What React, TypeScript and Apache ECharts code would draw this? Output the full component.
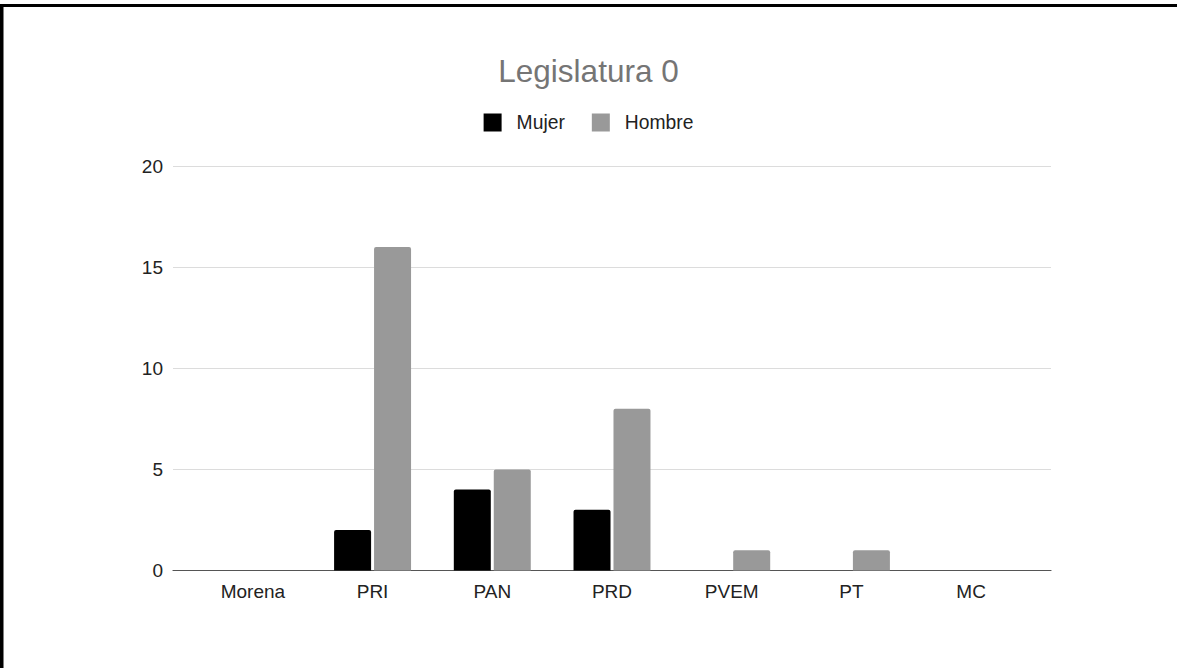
import React, { useEffect, useRef } from "react";
import * as echarts from "echarts";

const categories = ["Morena", "PRI", "PAN", "PRD", "PVEM", "PT", "MC"];
const mujer = [0, 2, 4, 3, 0, 0, 0];
const hombre = [0, 16, 5, 8, 1, 1, 0];
const yTicks = [0, 5, 10, 15, 20];
const titleText = "Legislatura 0";

const FONT = "'Liberation Sans', Arial, sans-serif";

export default function App() {
  const ref = useRef<HTMLDivElement>(null);
  useEffect(() => {
    if (!ref.current) return;
    const chart = echarts.init(ref.current, undefined, { renderer: "svg" });
    const yMax = yTicks[yTicks.length - 1];
    const interval = yTicks[1] - yTicks[0];
    chart.setOption({
      animation: false,
      backgroundColor: "#ffffff",
      title: {
        text: titleText,
        left: "center",
        top: 50,
        textStyle: { fontFamily: FONT, fontSize: 31.5, fontWeight: "normal", color: "#757575" },
      },
      legend: {
        top: 108,
        left: "center",
        itemWidth: 18,
        itemHeight: 18,
        itemGap: 27,
        icon: "rect",
        textStyle: { fontFamily: FONT, fontSize: 19.3, color: "#222222", padding: [0, 0, 0, 10] },
        data: ["Mujer", "Hombre"],
      },
      graphic: [
        { type: "rect", shape: { x: 0, y: 4, width: 3.5, height: 664 }, style: { fill: "#000" }, z: 100 },
        { type: "rect", shape: { x: 0, y: 4, width: 1177, height: 3 }, style: { fill: "#000" }, z: 100 },
      ],
      grid: [
        { left: 173, right: 126, top: 166, bottom: 97.5 },
        { left: 193, right: 146, top: 166, bottom: 97.5 },
      ],
      xAxis: [
        {
          type: "value",
          gridIndex: 0,
          min: 0,
          max: 1,
          axisLabel: { show: false },
          axisTick: { show: false },
          splitLine: { show: false },
          axisLine: { show: true, lineStyle: { color: "#555555", width: 1.2 } },
        },
        {
          type: "category",
          gridIndex: 1,
          data: categories,
          axisLine: { show: false },
          axisTick: { show: false },
          axisLabel: { fontFamily: FONT, fontSize: 19, color: "#222222", margin: 11 },
        },
      ],
      yAxis: [
        {
          type: "value",
          gridIndex: 0,
          min: 0,
          max: yMax,
          interval,
          axisLine: { show: false },
          axisTick: { show: false },
          axisLabel: { fontFamily: FONT, fontSize: 19, color: "#222222", margin: 10 },
          splitLine: { lineStyle: { color: "#dcdcdc", width: 1.2 } },
        },
        {
          type: "value",
          gridIndex: 1,
          min: 0,
          max: yMax,
          interval,
          show: false,
          splitLine: { show: false },
        },
      ],
      series: [
        {
          name: "Mujer",
          type: "bar",
          xAxisIndex: 1,
          yAxisIndex: 1,
          data: mujer,
          barWidth: 37,
          barGap: "8%",
          itemStyle: { color: "#000000", borderRadius: [2, 2, 0, 0] },
        },
        {
          name: "Hombre",
          type: "bar",
          xAxisIndex: 1,
          yAxisIndex: 1,
          data: hombre,
          barWidth: 37,
          barGap: "8%",
          itemStyle: { color: "#999999", borderRadius: [2, 2, 0, 0] },
        },
      ],
    });
    return () => chart.dispose();
  }, []);
  return (
    <div
      ref={ref}
      style={{ position: "fixed", left: 0, top: 0, width: 1177, height: 668, background: "#fff" }}
    />
  );
}
